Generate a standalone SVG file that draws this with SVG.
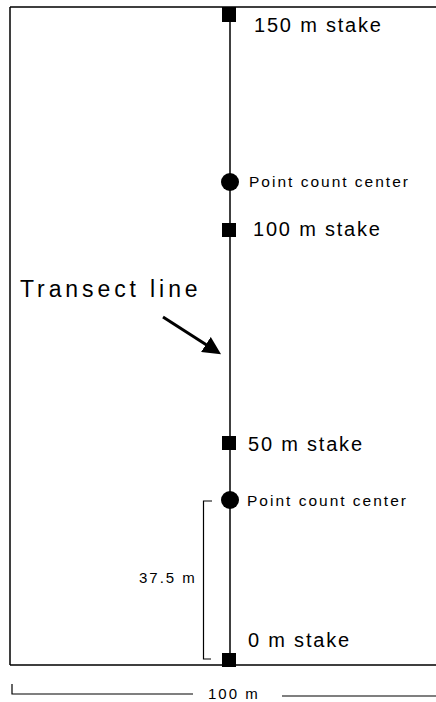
<svg xmlns="http://www.w3.org/2000/svg" width="436" height="702" viewBox="0 0 436 702">
<style>
.ln{stroke:#000;stroke-width:1.5;fill:none}
.thin{stroke:#000;stroke-width:1.2;fill:none}
.stake{fill:#000}
.big{font-family:"Liberation Sans",Arial,sans-serif;font-size:20px;letter-spacing:1.8px;fill:#000}
.sm{font-family:"Liberation Sans",Arial,sans-serif;font-size:15.5px;letter-spacing:2px;fill:#000}
.lbl{font-family:"Liberation Sans",Arial,sans-serif;font-size:15px;letter-spacing:2px;fill:#000}
</style>
<defs>
<marker id="ah" markerWidth="6" markerHeight="6" refX="4" refY="3" orient="auto" markerUnits="strokeWidth">
<path d="M0,0 L6,3 L0,6 Z" fill="#000"/>
</marker>
</defs>
<g id="plot">
<path class="ln" d="M10,7 H436 M10,7 V665 M10,665 H436"/>
</g>
<g id="connectors">
<line class="ln" x1="230" y1="7" x2="230" y2="665"/>
<line x1="163" y1="317" x2="216" y2="351" stroke="#000" stroke-width="3" marker-end="url(#ah)"/>
<path class="thin" d="M212,501 H203.5 V659 H211"/>
<path class="thin" d="M12,684 V694 H193"/>
<line class="thin" x1="282" y1="696" x2="436" y2="696"/>
</g>
<g id="stake150">
<rect class="stake" x="222" y="7" width="14" height="15"/>
<text class="big" x="254" y="32">150 m stake</text>
</g>
<g id="pc1">
<circle class="stake" cx="230" cy="182" r="9"/>
<text class="sm" x="249" y="187">Point count center</text>
</g>
<g id="stake100">
<rect class="stake" x="222" y="223" width="14" height="14"/>
<text class="big" x="253" y="236">100 m stake</text>
</g>
<g id="transect">
<text x="20" y="297" font-family="Liberation Sans,Arial,sans-serif" font-size="23" letter-spacing="3.9" font-weight="300" fill="#000">Transect line</text>
</g>
<g id="stake50">
<rect class="stake" x="222" y="436" width="14" height="14"/>
<text class="big" x="248" y="451">50 m stake</text>
</g>
<g id="pc2">
<circle class="stake" cx="230" cy="500" r="9"/>
<text class="sm" x="247" y="506">Point count center</text>
</g>
<g id="dist375">
<text class="lbl" x="139" y="583">37.5 m</text>
</g>
<g id="stake0">
<rect class="stake" x="222" y="653" width="14" height="14"/>
<text class="big" x="248" y="647">0 m stake</text>
</g>
<g id="scale">
<text class="lbl" x="208" y="699">100 m</text>
</g>
</svg>
